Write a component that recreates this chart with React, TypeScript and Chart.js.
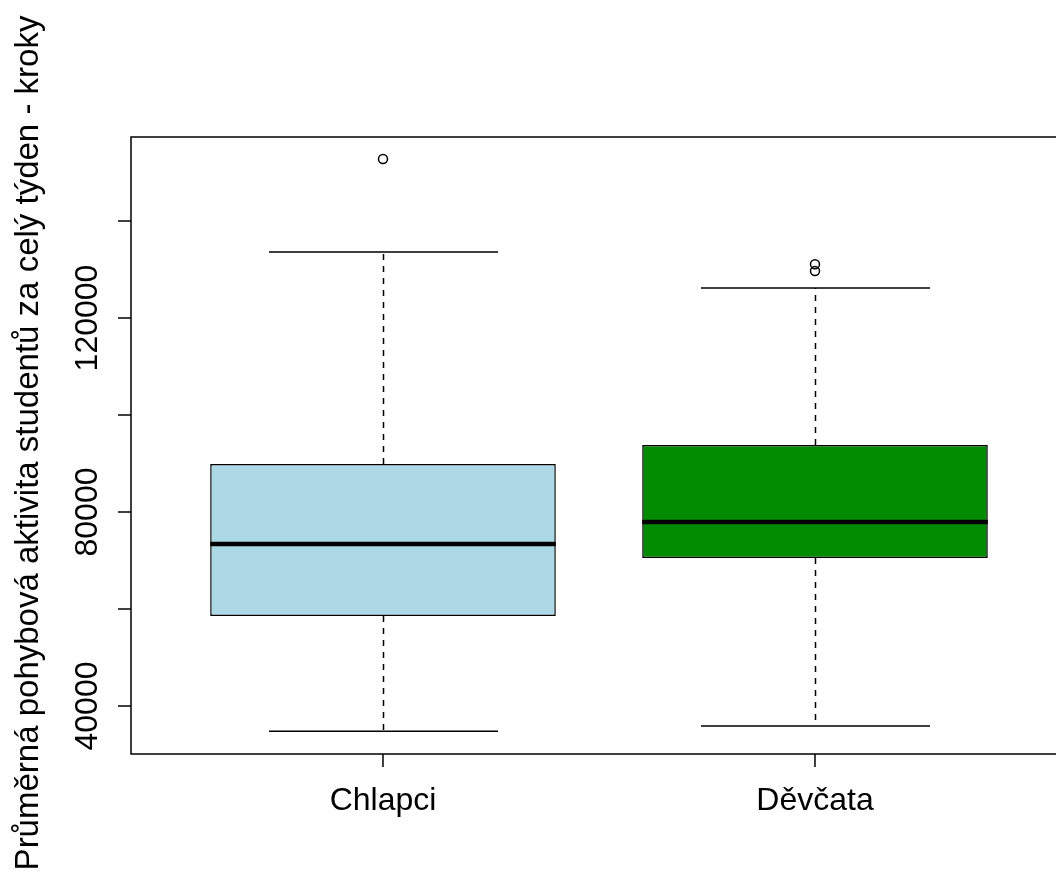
import React, { useEffect, useRef } from "react";
import { Chart, registerables } from "chart.js";

Chart.register(...registerables);

const categories = ["Chlapci", "Děvčata"];
const lowerWhisker = [34800, 35900];
const q1 = [58550, 70500];
const median = [73400, 77950];
const q3 = [89900, 93800];
const upperWhisker = [133600, 126200];
const outlierGroup = [1, 2, 2];
const outlierValues = [152800, 131100, 129700];
const boxColors = ["#ADD8E6", "#008B00"];
const yTickValues = [40000, 60000, 80000, 100000, 120000, 140000];
const yTickLabels = ["40000", "", "80000", "", "120000", ""];
const yTitle = "Průměrná pohybová aktivita studentů za celý týden - kroky";

const FONT = '32px "Liberation Sans", Arial, sans-serif';
const TITLE_FONT = '33px "Liberation Sans", Arial, sans-serif';

const boxplotPlugin = {
  id: "boxplotExtras",
  beforeDatasetsDraw(chart: any) {
    const { ctx } = chart;
    const xs = chart.scales.x;
    const ys = chart.scales.y;
    const unit = xs.getPixelForValue(2) - xs.getPixelForValue(1);
    const stapleHalf = unit * 0.265;
    ctx.save();
    ctx.strokeStyle = "#000";
    ctx.lineWidth = 1.5;
    categories.forEach((_, i) => {
      const cx = Math.round(xs.getPixelForValue(i + 1)) + 0.5;
      const yq1 = ys.getPixelForValue(q1[i]);
      const yq3 = ys.getPixelForValue(q3[i]);
      const ylo = ys.getPixelForValue(lowerWhisker[i]);
      const yhi = ys.getPixelForValue(upperWhisker[i]);
      ctx.setLineDash([6, 6]);
      ctx.beginPath();
      ctx.moveTo(cx, yq3);
      ctx.lineTo(cx, yhi);
      ctx.moveTo(cx, yq1);
      ctx.lineTo(cx, ylo);
      ctx.stroke();
      ctx.setLineDash([]);
      ctx.beginPath();
      ctx.moveTo(cx - stapleHalf, yhi);
      ctx.lineTo(cx + stapleHalf, yhi);
      ctx.moveTo(cx - stapleHalf, ylo);
      ctx.lineTo(cx + stapleHalf, ylo);
      ctx.stroke();
    });
    ctx.restore();
  },
  afterDatasetsDraw(chart: any) {
    const { ctx, chartArea } = chart;
    const xs = chart.scales.x;
    const ys = chart.scales.y;
    const unit = xs.getPixelForValue(2) - xs.getPixelForValue(1);
    const boxHalf = unit * 0.4;
    ctx.save();
    // medians
    ctx.strokeStyle = "#000";
    ctx.lineWidth = 4.5;
    categories.forEach((_, i) => {
      const cx = xs.getPixelForValue(i + 1);
      const ym = ys.getPixelForValue(median[i]);
      ctx.beginPath();
      ctx.moveTo(cx - boxHalf, ym);
      ctx.lineTo(cx + boxHalf, ym);
      ctx.stroke();
    });
    // frame (right side is outside the picture)
    ctx.lineWidth = 1.5;
    ctx.beginPath();
    ctx.moveTo(chart.width + 5, chartArea.top);
    ctx.lineTo(chartArea.left, chartArea.top);
    ctx.lineTo(chartArea.left, chartArea.bottom);
    ctx.lineTo(chart.width + 5, chartArea.bottom);
    ctx.stroke();
    // y ticks
    ctx.font = FONT;
    ctx.fillStyle = "#000";
    yTickValues.forEach((v, i) => {
      const y = ys.getPixelForValue(v);
      ctx.beginPath();
      ctx.moveTo(chartArea.left, y);
      ctx.lineTo(chartArea.left - 13, y);
      ctx.stroke();
      if (yTickLabels[i]) {
        ctx.save();
        ctx.translate(chartArea.left - 34, y);
        ctx.rotate(-Math.PI / 2);
        ctx.textAlign = "center";
        ctx.textBaseline = "alphabetic";
        ctx.fillText(yTickLabels[i], 0, 0);
        ctx.restore();
      }
    });
    // x ticks
    categories.forEach((c, i) => {
      const x = xs.getPixelForValue(i + 1);
      ctx.beginPath();
      ctx.moveTo(x, chartArea.bottom);
      ctx.lineTo(x, chartArea.bottom + 13);
      ctx.stroke();
      ctx.textAlign = "center";
      ctx.textBaseline = "alphabetic";
      ctx.fillText(c, x, chartArea.bottom + 56);
    });
    // y title
    ctx.font = TITLE_FONT;
    ctx.save();
    ctx.translate(38, 443);
    ctx.rotate(-Math.PI / 2);
    ctx.textAlign = "center";
    ctx.textBaseline = "alphabetic";
    ctx.fillText(yTitle, 0, 0);
    ctx.restore();
    ctx.restore();
  },
};

export default function App() {
  const canvasRef = useRef<HTMLCanvasElement>(null);
  useEffect(() => {
    const canvas = canvasRef.current;
    if (!canvas) return;
    const chart = new Chart(canvas, {
      type: "bar",
      data: {
        datasets: [
          {
            type: "bar",
            data: categories.map((_, i) => ({ x: i + 1, y: [q1[i], q3[i]] })) as any,
            backgroundColor: boxColors,
            borderColor: "#000",
            borderWidth: 1.5,
            borderSkipped: false,
            barPercentage: 1,
            categoryPercentage: 0.8,
            grouped: false,
          } as any,
          {
            type: "scatter",
            data: outlierValues.map((v, i) => ({ x: outlierGroup[i], y: v })),
            pointStyle: "circle",
            pointRadius: 4.5,
            pointBorderWidth: 1.5,
            pointBorderColor: "#000",
            pointBackgroundColor: "rgba(0,0,0,0)",
          } as any,
        ],
      },
      options: {
        responsive: false,
        animation: false,
        devicePixelRatio: 1,
        layout: { padding: { left: 131, top: 137, right: 0, bottom: 124 } },
        plugins: { legend: { display: false }, tooltip: { enabled: false } },
        scales: {
          x: {
            type: "linear",
            display: false,
            offset: false,
            min: 0.4167,
            max: 2.544,
            afterBuildTicks: (scale: any) => {
              scale.ticks = categories.map((_, i) => ({ value: i + 1 }));
            },
          },
          y: {
            type: "linear",
            display: false,
            min: 30103,
            max: 157320,
          },
        },
      } as any,
      plugins: [boxplotPlugin],
    });
    return () => chart.destroy();
  }, []);
  return (
    <canvas
      ref={canvasRef}
      width={1056}
      height={878}
      style={{ position: "fixed", left: 0, top: 0, background: "#fff" }}
    />
  );
}
